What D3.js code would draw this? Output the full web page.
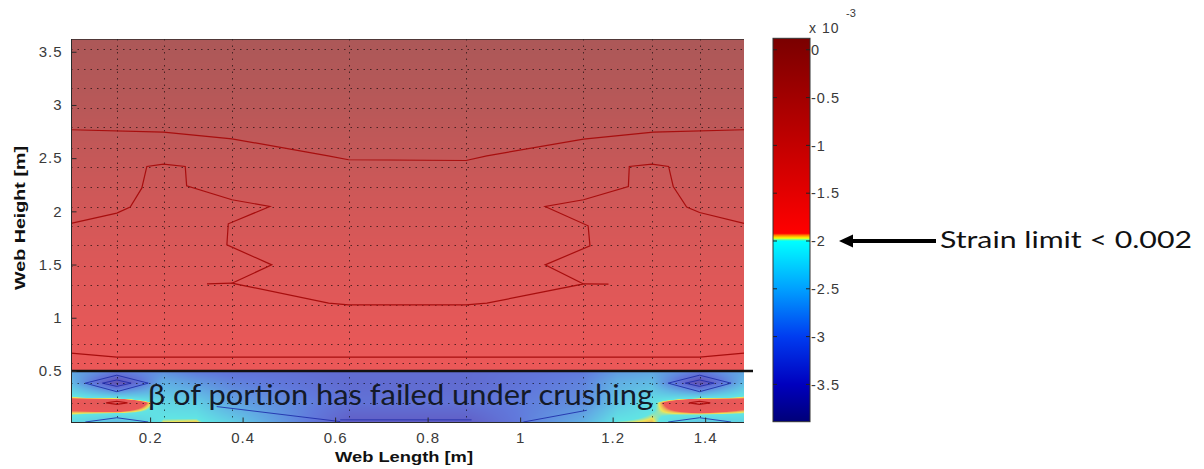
<!DOCTYPE html>
<html><head><meta charset="utf-8">
<script src="https://cdn.jsdelivr.net/npm/d3@7"></script>
<style>
body{margin:0;background:#fff;}
svg{display:block;font-family:"Liberation Sans",Arial,sans-serif;}
</style>
</head><body>
<svg id="chart" width="1204" height="469"></svg>
<script>
// ---------------- data ----------------
const xTicks = [0.2, 0.4, 0.6, 0.8, 1, 1.2, 1.4];
const yTicks = [0.5, 1, 1.5, 2, 2.5, 3, 3.5];
const cbTicks = [0, -0.5, -1, -1.5, -2, -2.5, -3, -3.5];
const cbTickLabels = ["0", "-0.5", "-1", "-1.5", "-2", "-2.5", "-3", "-3.5"];
// mesh (dotted) lines
const meshX = [0.128, 0.229, 0.377, 0.629, 0.883, 1.136, 1.285, 1.388];
const meshY = [0.20, 0.39, 0.57, 0.75, 0.93, 1.12, 1.31, 1.49, 1.68, 1.86, 2.04, 2.23, 2.42, 2.60, 2.79, 2.97, 3.16, 3.34, 3.53];
// strain (x10^-3) in the web above the failed portion, by height
const upperY = [0.5, 0.6, 1.0, 1.5, 2.0, 2.5, 3.0, 3.62];
const upperStrain = [-1.88, -1.85, -1.66, -1.44, -1.18, -0.80, -0.44, -0.10];
// strain (x10^-3) in the crushed portion (nodes)
const lowerX = [0.029, 0.128, 0.229, 0.30, 0.377, 0.629, 0.883, 1.136, 1.21, 1.285, 1.388, 1.484];
const lowerY = [0.02, 0.2, 0.39, 0.5];
const lowerStrainRow002 = [-2.10, -2.40, -1.97, -1.955, -2.20, -3.40, -3.40, -2.50, -1.99, -1.95, -2.30, -2.15];
const lowerStrainRow020 = [-1.80, -1.50, -2.15, -2.20, -2.60, -3.10, -3.10, -2.80, -2.30, -2.05, -1.50, -1.80];
const lowerStrainRow039 = [-2.40, -3.70, -2.50, -2.70, -2.90, -3.20, -3.20, -2.90, -2.50, -2.40, -3.70, -2.40];
const lowerStrainRow050 = [-2.60, -2.90, -2.80, -3.00, -3.10, -3.20, -3.20, -3.00, -2.70, -2.60, -2.90, -2.60];
// contour lines
const contourTop = [[0.029,2.767],[0.229,2.745],[0.377,2.682],[0.585,2.522],[0.629,2.485],[0.883,2.478],[0.928,2.522],[1.137,2.679],[1.288,2.745],[1.484,2.767]];
const contourMid = [[0.029,1.887],[0.128,1.983],[0.157,2.04],[0.182,2.218],[0.193,2.422],[0.229,2.444],[0.276,2.422],[0.279,2.240],[0.377,2.109],[0.459,2.046],[0.369,1.883],[0.366,1.685],[0.463,1.497],[0.377,1.325],[0.586,1.137],[0.629,1.121],[0.883,1.121],[0.928,1.137],[1.137,1.318],[1.054,1.497],[1.151,1.676],[1.147,1.864],[1.054,2.046],[1.137,2.109],[1.234,2.234],[1.236,2.422],[1.285,2.444],[1.321,2.422],[1.331,2.234],[1.360,2.04],[1.388,1.989],[1.484,1.887]];
const contourStubL = [[0.323,1.318],[0.377,1.325]];
const contourStubR = [[1.137,1.318],[1.191,1.316]];
const contourLow = [[0.029,0.667],[0.128,0.630],[1.388,0.630],[1.484,0.667]];
const blueContours = [
  [[0.06,0.385],[0.128,0.46],[0.196,0.385],[0.128,0.305],[0.06,0.385]],
  [[0.097,0.385],[0.128,0.415],[0.159,0.385],[0.128,0.355],[0.097,0.385]],
  [[1.32,0.385],[1.388,0.46],[1.456,0.385],[1.388,0.305],[1.32,0.385]],
  [[1.357,0.385],[1.388,0.415],[1.419,0.385],[1.388,0.355],[1.357,0.385]],
  [[0.06,0.02],[0.128,0.06],[0.196,0.02]],
  [[1.32,0.02],[1.388,0.06],[1.456,0.02]],
  [[0.344,0.165],[0.611,0.024]],
  [[0.611,0.04],[0.895,0.04]],
  [[1.007,0.02],[1.144,0.13]]
];
const redContours = [
  [[0.105,0.2],[0.128,0.215],[0.151,0.2],[0.128,0.185],[0.105,0.2]],
  [[1.365,0.2],[1.388,0.215],[1.411,0.2],[1.388,0.185],[1.365,0.2]]
];
// colormap (value x10^-3 -> colour)
const cmapValues = [-3.89, -3.5, -3.0, -2.5, -2.0, -1.985, -1.97, -1.945, -1.92, 0.12];
const cmapColors = ["#000078", "#0000be", "#003cf0", "#00a0ff", "#00ffff", "#70ff90", "#ffff00", "#ff9600", "#ff0000", "#7a0000"];

// ---------------- layout ----------------
const svg = d3.select("#chart");
const x = d3.scaleLinear().domain([0.029, 1.484]).range([71, 744]);
const y = d3.scaleLinear().domain([0.02, 3.62]).range([422, 39]);
const cb = d3.scaleLinear().domain([-3.89, 0.12]).range([421.7, 38.3]);
const cmap = d3.scaleLinear().domain(cmapValues).range(cmapColors).clamp(true);
const fadeTo = d3.rgb(215, 195, 195), fadeAmt = 0.45;

// LUT for faded field colours
const lutN = 4096, vMin = -3.89, vMax = 0.12;
const lut = d3.range(lutN).map(i => {
  const v = vMin + (vMax - vMin) * i / (lutN - 1);
  return d3.rgb(d3.interpolateRgb(cmap(v), fadeTo)(fadeAmt));
});
const upperScale = d3.scaleLinear().domain(upperY).range(upperStrain).clamp(true);
const lowerGrid = [lowerStrainRow002, lowerStrainRow020, lowerStrainRow039, lowerStrainRow050];
function seg(arr, v) {
  let i = d3.bisectRight(arr, v);
  i = Math.max(1, Math.min(arr.length - 1, i));
  let t = (v - arr[i - 1]) / (arr[i] - arr[i - 1]);
  t = Math.max(0, Math.min(1, t));
  return [i, t];
}
function lowerStrain(xv, yv) {
  const [i, tx] = seg(lowerX, xv);
  const [j, ty] = seg(lowerY, yv);
  const a = lowerGrid[j - 1][i - 1] * (1 - tx) + lowerGrid[j - 1][i] * tx;
  const b = lowerGrid[j][i - 1] * (1 - tx) + lowerGrid[j][i] * tx;
  return a * (1 - ty) + b * ty;
}
const px0 = x.range()[0], px1 = x.range()[1], py0 = y.range()[1], py1 = y.range()[0];
const cw = px1 - px0, ch = py1 - py0;
const canvas = document.createElement("canvas");
canvas.width = cw; canvas.height = ch;
const ctx = canvas.getContext("2d");
const img = ctx.createImageData(cw, ch);
for (let j = 0; j < ch; j++) {
  const yv = y.invert(py0 + j + 0.5);
  for (let i = 0; i < cw; i++) {
    const xv = x.invert(px0 + i + 0.5);
    const v = yv >= 0.5 ? upperScale(yv) : lowerStrain(xv, yv);
    let k = Math.round((v - vMin) / (vMax - vMin) * (lutN - 1));
    k = Math.max(0, Math.min(lutN - 1, k));
    const c = lut[k], o = (j * cw + i) * 4;
    img.data[o] = c.r; img.data[o + 1] = c.g; img.data[o + 2] = c.b; img.data[o + 3] = 255;
  }
}
ctx.putImageData(img, 0, 0);
svg.append("image").attr("x", px0).attr("y", py0).attr("width", cw).attr("height", ch)
  .attr("preserveAspectRatio", "none").attr("href", canvas.toDataURL());

// dotted mesh lines
const grid = svg.append("g").attr("stroke", "#000").attr("stroke-opacity", 0.6)
  .attr("stroke-width", 1).attr("stroke-dasharray", "1.5,5");
grid.selectAll("line.h").data(meshY).join("line").attr("class", "h")
  .attr("x1", px0).attr("x2", px1).attr("y1", d => Math.round(y(d)) + 0.5).attr("y2", d => Math.round(y(d)) + 0.5);
grid.selectAll("line.v").data(meshX).join("line").attr("class", "v")
  .attr("y1", py0).attr("y2", py1).attr("x1", d => Math.round(x(d)) + 0.5).attr("x2", d => Math.round(x(d)) + 0.5);

// contour lines
const line = d3.line().x(d => x(d[0])).y(d => y(d[1]));
[contourTop, contourMid, contourStubL, contourStubR, contourLow].forEach(c => {
  svg.append("path").attr("d", line(c)).attr("fill", "none").attr("stroke", "#a80e0e").attr("stroke-width", 1.2);
});
blueContours.forEach(c => {
  svg.append("path").attr("d", line(c)).attr("fill", "none").attr("stroke", "#1c2aa8").attr("stroke-width", 1).attr("stroke-opacity", 0.85);
});
redContours.forEach(c => {
  svg.append("path").attr("d", line(c)).attr("fill", "none").attr("stroke", "#b01010").attr("stroke-width", 1.2);
});

// boundary of crushed portion
svg.append("line").attr("x1", px0).attr("x2", 753).attr("y1", y(0.5)).attr("y2", y(0.5))
  .attr("stroke", "#111").attr("stroke-width", 2.6);

// axes
const axisCol = "#2a2a2a";
svg.append("line").attr("x1", px0 + 0.5).attr("x2", px0 + 0.5).attr("y1", py0).attr("y2", py1).attr("stroke", axisCol);
svg.append("line").attr("x1", px0).attr("x2", px1).attr("y1", py1 + 0.5).attr("y2", py1 + 0.5).attr("stroke", axisCol);
svg.append("line").attr("x1", px0).attr("x2", px1).attr("y1", py0 + 0.5).attr("y2", py0 + 0.5).attr("stroke", axisCol).attr("stroke-opacity", 0.7);

const yAxis = d3.axisLeft(y).tickValues(yTicks).tickSizeInner(-5).tickSizeOuter(0).tickPadding(9).tickFormat(d3.format("~g"));
const gy = svg.append("g").attr("transform", `translate(${px0 + 0.5},0)`).call(yAxis);
gy.select(".domain").remove();
gy.selectAll("line").attr("stroke", axisCol);
gy.selectAll("text").attr("font-size", 15).attr("fill", "#3a3a3a").attr("letter-spacing", 1).attr("font-family", "Liberation Sans, Arial, sans-serif");

const xAxis = d3.axisBottom(x).tickValues(xTicks).tickSizeInner(-5).tickSizeOuter(0).tickPadding(10).tickFormat(d3.format("~g"));
const gx = svg.append("g").attr("transform", `translate(0,${py1 + 0.5})`).call(xAxis);
gx.select(".domain").remove();
gx.selectAll("line").attr("stroke", axisCol);
gx.selectAll("text").attr("font-size", 15).attr("fill", "#3a3a3a").attr("letter-spacing", 1).attr("font-family", "Liberation Sans, Arial, sans-serif");

svg.append("text").attr("x", 404).attr("y", 462).attr("text-anchor", "middle")
  .attr("font-size", 15).attr("font-weight", "bold").attr("fill", "#111")
  .attr("textLength", 138).attr("lengthAdjust", "spacingAndGlyphs").text("Web Length [m]");
svg.append("text").attr("transform", "translate(25,218) rotate(-90)").attr("text-anchor", "middle")
  .attr("font-size", 15).attr("font-weight", "bold").attr("fill", "#111")
  .attr("textLength", 144).attr("lengthAdjust", "spacingAndGlyphs").text("Web Height [m]");

// colorbar
const cbX0 = 773, cbX1 = 810;
const defs = svg.append("defs");
const grad = defs.append("linearGradient").attr("id", "cbgrad")
  .attr("x1", 0).attr("x2", 0).attr("y1", 1).attr("y2", 0);
grad.selectAll("stop").data(cmapValues).join("stop")
  .attr("offset", d => (d - cb.domain()[0]) / (cb.domain()[1] - cb.domain()[0]))
  .attr("stop-color", (d, i) => cmapColors[i]);
svg.append("rect").attr("x", cbX0).attr("y", cb(0.12)).attr("width", cbX1 - cbX0).attr("height", cb(-3.89) - cb(0.12))
  .attr("fill", "url(#cbgrad)").attr("stroke", "#333").attr("stroke-width", 1);
const cbt = svg.append("g");
cbt.selectAll("line.l").data(cbTicks).join("line").attr("class", "l")
  .attr("x1", cbX0).attr("x2", cbX0 + 4).attr("y1", d => cb(d)).attr("y2", d => cb(d)).attr("stroke", "#222");
cbt.selectAll("line.r").data(cbTicks).join("line").attr("class", "r")
  .attr("x1", cbX1 - 4).attr("x2", cbX1).attr("y1", d => cb(d)).attr("y2", d => cb(d)).attr("stroke", "#222");
cbt.selectAll("text").data(cbTicks).join("text")
  .attr("x", 811).attr("y", d => cb(d)).attr("dy", "0.36em")
  .attr("font-size", 14.5).attr("letter-spacing", 1).attr("fill", "#3a3a3a")
  .text((d, i) => cbTickLabels[i]);
svg.append("text").attr("x", 809).attr("y", 33).attr("font-size", 14).attr("fill", "#3a3a3a").attr("letter-spacing", 1).text("x 10");
svg.append("text").attr("x", 846).attr("y", 17).attr("font-size", 11).attr("fill", "#3a3a3a").text("-3");

// annotation arrow and labels
const yLim = cb(-2);
svg.append("line").attr("x1", 848).attr("x2", 936).attr("y1", yLim).attr("y2", yLim).attr("stroke", "#000").attr("stroke-width", 4);
svg.append("path").attr("d", `M839,${yLim} L853,${yLim - 6.5} L853,${yLim + 6.5} Z`).attr("fill", "#000");
svg.append("text").attr("x", 940).attr("y", yLim + 7.5).attr("font-family", "Lato, 'Open Sans', sans-serif")
  .attr("font-size", 24).attr("fill", "#111").attr("textLength", 252).attr("lengthAdjust", "spacingAndGlyphs")
  .text("Strain limit < 0.002");
svg.append("text").attr("x", 148).attr("y", 405).attr("font-family", "Lato, 'Open Sans', sans-serif")
  .attr("font-size", 29).attr("fill", "#141a28").attr("textLength", 505).attr("lengthAdjust", "spacingAndGlyphs")
  .text("β of portion has failed under crushing");
</script>
</body></html>
